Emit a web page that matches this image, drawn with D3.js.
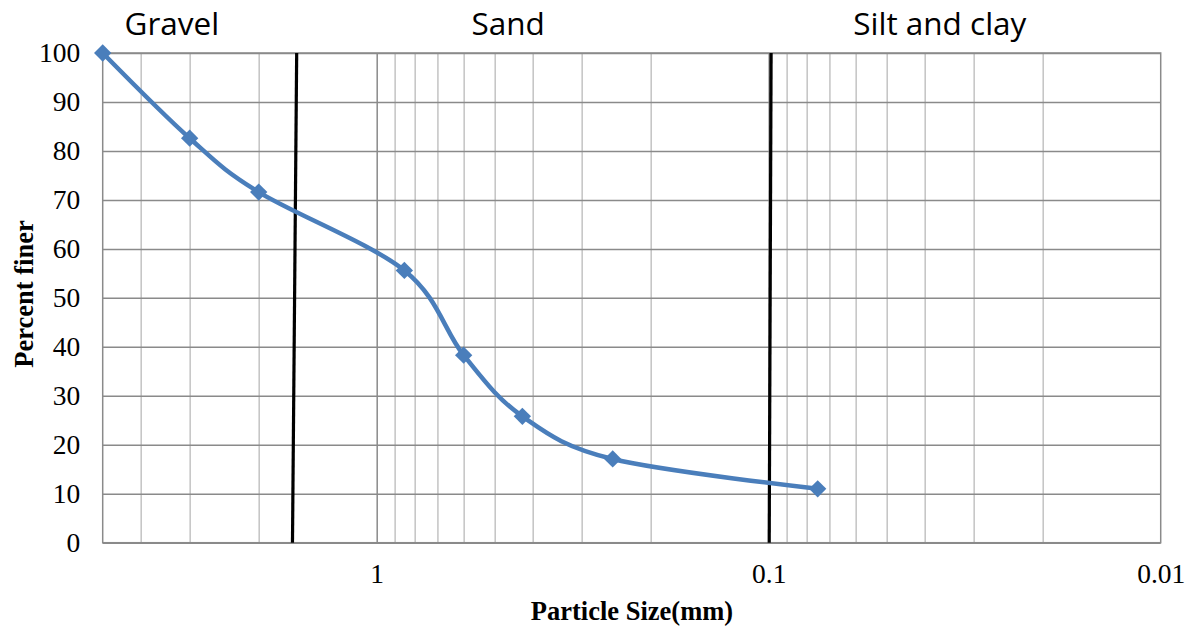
<!DOCTYPE html>
<html>
<head>
<meta charset="utf-8">
<script src="https://cdn.jsdelivr.net/npm/d3@7/dist/d3.min.js"></script>
<style>
  html, body { margin: 0; padding: 0; background: #fff; }
  svg { display: block; }
</style>
</head>
<body>
<svg id="chart" width="1190" height="629"></svg>
<script>
// Sieve analysis: particle size (mm) vs percent finer
const sieveSizes   = [5, 3, 2, 0.85, 0.6, 0.425, 0.25, 0.075];
const percentFiner = [100, 82.6, 71.6, 55.6, 38.3, 25.8, 17.1, 11.0];

// Soil class boundaries (size at top and bottom of the drawn line)
const boundaryTop    = [1.60, 0.0986];
const boundaryBottom = [1.64, 0.0997];

// Soil class names and the size at which each name is centred
const zoneNames = ["Gravel", "Sand", "Silt and clay"];
const zoneAt    = [3.33, 0.462, 0.0366];

// Axis tick labels
const xTickLabels = [1, 0.1, 0.01];
const yTickLabels = [0, 10, 20, 30, 40, 50, 60, 70, 80, 90, 100];

const svg = d3.select("#chart");
const plot = { left: 102.7, right: 1160.7, top: 53, bottom: 542.7 };

const x = d3.scaleLog().domain([5, 0.01]).range([plot.left, plot.right]);
const y = d3.scaleLinear().domain([0, 100]).range([plot.bottom, plot.top]);

const serif = "'Times New Roman', 'Liberation Serif', serif";

// Minor vertical gridlines (2..9 of each decade)
const minorTicks = x.ticks().filter(v => !xTickLabels.includes(v) && v < 5);
svg.append("g")
  .attr("transform", `translate(0,${plot.bottom})`)
  .call(d3.axisBottom(x).tickValues(minorTicks).tickSize(-(plot.bottom - plot.top)).tickFormat(""))
  .call(g => g.select(".domain").remove())
  .call(g => g.selectAll("line").attr("stroke", "#c3c3c3").attr("stroke-width", 1.5));

// Major vertical gridlines
svg.append("g")
  .attr("transform", `translate(0,${plot.bottom})`)
  .call(d3.axisBottom(x).tickValues(xTickLabels.slice(0, 2)).tickSize(-(plot.bottom - plot.top)).tickFormat(""))
  .call(g => g.select(".domain").remove())
  .call(g => g.selectAll("line").attr("stroke", "#8a8a8a").attr("stroke-width", 1.5));

// Horizontal gridlines
svg.append("g")
  .attr("transform", `translate(${plot.left},0)`)
  .call(d3.axisLeft(y).tickValues(yTickLabels).tickSize(-(plot.right - plot.left)).tickFormat(""))
  .call(g => g.select(".domain").remove())
  .call(g => g.selectAll("line").attr("stroke", "#8a8a8a").attr("stroke-width", 1.5));

// Plot border
svg.append("rect")
  .attr("x", plot.left).attr("y", plot.top)
  .attr("width", plot.right - plot.left).attr("height", plot.bottom - plot.top)
  .attr("fill", "none").attr("stroke", "#8a8a8a").attr("stroke-width", 1.5);

// Y tick labels
svg.append("g")
  .attr("transform", `translate(${plot.left},0)`)
  .call(d3.axisLeft(y).tickValues(yTickLabels).tickSize(0).tickPadding(22.5))
  .call(g => g.select(".domain").remove())
  .call(g => g.selectAll("text").attr("font-family", serif).attr("font-size", 27.5).attr("fill", "#000"));

// X tick labels
svg.append("g")
  .attr("transform", `translate(0,${plot.bottom})`)
  .call(d3.axisBottom(x).tickValues(xTickLabels).tickSize(0).tickPadding(21).tickFormat(d => String(d)))
  .call(g => g.select(".domain").remove())
  .call(g => g.selectAll("text").attr("font-family", serif).attr("font-size", 27.5).attr("fill", "#000"));

// Axis titles
svg.append("text")
  .attr("x", 632).attr("y", 620)
  .attr("text-anchor", "middle")
  .attr("font-family", serif).attr("font-weight", "bold").attr("font-size", 26.5)
  .text("Particle Size(mm)");

svg.append("text")
  .attr("transform", "translate(33,294) rotate(-90)")
  .attr("text-anchor", "middle")
  .attr("font-family", serif).attr("font-weight", "bold").attr("font-size", 26.5)
  .text("Percent finer");

// Soil class boundary lines
svg.append("g").selectAll("line")
  .data(boundaryTop.map((t, i) => ({ top: t, bottom: boundaryBottom[i] })))
  .join("line")
  .attr("x1", d => x(d.top)).attr("y1", y(100))
  .attr("x2", d => x(d.bottom)).attr("y2", y(0))
  .attr("stroke", "#000").attr("stroke-width", 3.2);

// Soil class names
svg.append("g").selectAll("text")
  .data(zoneNames)
  .join("text")
  .attr("x", (d, i) => x(zoneAt[i]))
  .attr("y", 35)
  .attr("text-anchor", "middle")
  .attr("font-family", "'Open Sans', sans-serif")
  .attr("font-size", 31.5)
  .attr("fill", "#000")
  .text(d => d);

// Gradation curve
const points = sieveSizes.map((s, i) => [x(s), y(percentFiner[i])]);
svg.append("path")
  .attr("d", d3.line().curve(d3.curveCardinal.tension(0))(points))
  .attr("fill", "none")
  .attr("stroke", "#4a7ebb")
  .attr("stroke-width", 4.5)
  .attr("stroke-linejoin", "round");

// Diamond markers
svg.append("g").selectAll("path")
  .data(points)
  .join("path")
  .attr("transform", d => `translate(${d[0]},${d[1]}) rotate(45)`)
  .attr("d", d3.symbol(d3.symbolSquare, 150))
  .attr("fill", "#4a7ebb");
</script>
</body>
</html>
